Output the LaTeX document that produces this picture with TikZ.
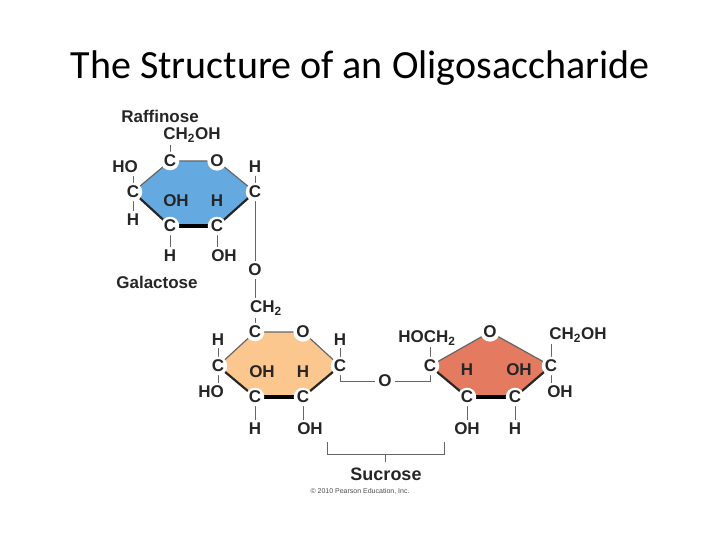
\documentclass[tikz,border=0pt]{standalone}
\usepackage{fontspec}
\setmainfont{Liberation Sans}
\newfontfamily\titlefont{Carlito}
\begin{document}
\begin{tikzpicture}[x=1pt,y=-1pt,
  atom/.style={circle,fill=white,inner sep=0.5pt,minimum size=18pt,font=\bfseries\fontsize{17}{17}\selectfont,text=black!85},
  lbl/.style={inner sep=0pt,font=\bfseries\fontsize{17}{17}\selectfont,text=black!85},
  thin/.style={draw=black!60,line width=1.2pt},
  bond/.style={draw=black!60,line width=0.9pt},
  thick/.style={draw=black,line width=3.5pt},
  mid/.style={draw=black!85,line width=2.2pt}]
\useasboundingbox (0,0) rectangle (720,540);
\definecolor{gal}{HTML}{64AAE0}
\definecolor{glu}{HTML}{FCC78E}
\definecolor{fru}{HTML}{E47A5F}
\node[font=\titlefont\fontsize{40}{40}\selectfont] (title) at (360,68) {The Structure of an Oligosaccharide};
% galactose
\fill[gal] (170,161)--(217,161)--(255,192)--(217,226)--(170,226)--(133,192)--cycle;
\coordinate (g1) at (170,161); \coordinate (g2) at (217,161); \coordinate (g3) at (255,192);
\coordinate (g4) at (217,226); \coordinate (g5) at (170,226); \coordinate (g6) at (133,192);
\draw[thin] (g6)--(g1)--(g2)--(g3);
\draw[mid] (g3)--(g4) (g5)--(g6);
\draw[thick] (g4)--(g5);
% glucose
\fill[glu] (255,332)--(303,332)--(340,366)--(303,397)--(255,397)--(218,366)--cycle;
\coordinate (u1) at (255,332); \coordinate (u2) at (303,332); \coordinate (u3) at (340,366);
\coordinate (u4) at (303,397); \coordinate (u5) at (255,397); \coordinate (u6) at (218,366);
\draw[thin] (u6)--(u1)--(u2)--(u3);
\draw[mid] (u3)--(u4) (u5)--(u6);
\draw[thick] (u4)--(u5);
% fructose
\fill[fru] (430,366)--(490,332)--(551,366)--(515,397)--(467,397)--cycle;
\coordinate (f1) at (430,366); \coordinate (f2) at (490,332); \coordinate (f3) at (551,366);
\coordinate (f4) at (515,397); \coordinate (f5) at (467,397);
\draw[thin] (f1)--(f2)--(f3);
\draw[mid] (f3)--(f4) (f5)--(f1);
\draw[thick] (f4)--(f5);
% labels galactose
\node[lbl] (raf) at (160,116) {Raffinose};
\node[lbl] (gch) at (192,135) {CH\textsubscript{2}OH};
\node[lbl] (gho) at (125,167) {HO};
\node[lbl] (gh1) at (133,220) {H};
\node[lbl] (goh) at (176,201) {OH};
\node[lbl] (gh2) at (217,201) {H};
\node[lbl] (gh3) at (170,256) {H};
\node[lbl] (goh2) at (224,256) {OH};
\node[lbl] (gh4) at (255,167) {H};
\node[lbl] (gO) at (255,270) {O};
\node[lbl] (gal) at (157,282) {Galactose};
\node[lbl] (ch2) at (266,308) {CH\textsubscript{2}};
\draw[bond] (170,145)--(170,154) (133,176)--(133,184) (133,200)--(133,211)
  (170,234)--(170,247) (217,234)--(217,247) (255,176)--(255,184)
  (255,200)--(255,261) (255,279)--(255,298) (255,318)--(255,324);
% labels glucose
\node[lbl] (uh1) at (218,340) {H};
\node[lbl] (uho) at (211,392) {HO};
\node[lbl] (uoh) at (262,372) {OH};
\node[lbl] (uh2) at (303,372) {H};
\node[lbl] (uh3) at (255,429) {H};
\node[lbl] (uoh2) at (310,429) {OH};
\node[lbl] (uh4) at (340,340) {H};
\node[lbl] (bO) at (385,381) {O};
\draw[bond] (218,348)--(218,358) (218,374)--(218,383) (255,405)--(255,420) (303,405)--(303,420)
  (340,348)--(340,358) (340,374)--(340,381)--(375,381) (395,381)--(430,381)--(430,374);
% labels fructose
\node[lbl] (hoch) at (427,338) {HOCH\textsubscript{2}};
\node[lbl] (fch) at (578,335) {CH\textsubscript{2}OH};
\node[lbl] (fh1) at (467,370) {H};
\node[lbl] (foh1) at (519,370) {OH};
\node[lbl] (foh2) at (560,392) {OH};
\node[lbl] (foh3) at (467,429) {OH};
\node[lbl] (fh2) at (515,429) {H};
\draw[bond] (430,347)--(430,358) (551,344)--(551,358) (551,374)--(551,383)
  (467,405)--(467,420) (515,405)--(515,420);
% atoms
\foreach \p/\t in {g1/C,g2/O,g3/C,g4/C,g5/C,g6/C,u1/C,u2/O,u3/C,u4/C,u5/C,u6/C,f1/C,f2/O,f3/C,f4/C,f5/C}
  \node[atom] at (\p) {\t};
% bracket
\draw[bond] (327,442)--(327,454)--(444,454)--(444,442) (385,454)--(385,462);
\node[lbl,font=\bfseries\fontsize{18}{18}\selectfont] (suc) at (386,474) {Sucrose};
\node[font=\fontsize{7}{7}\selectfont,text=black!70] (copy) at (360,491) {\textcopyright{} 2010 Pearson Education, Inc.};
\end{tikzpicture}
\end{document}
